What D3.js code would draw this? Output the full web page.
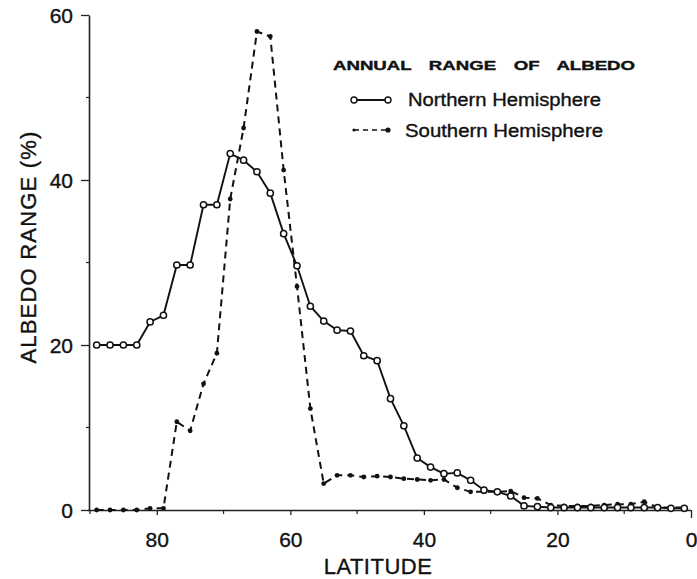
<!DOCTYPE html>
<html>
<head>
<meta charset="utf-8">
<script src="https://cdn.jsdelivr.net/npm/d3@7"></script>
<style>
  html, body { margin: 0; padding: 0; background: #fff; }
  svg { display: block; }
  text { font-family: "Liberation Sans", Arial, Helvetica, sans-serif; fill: #111; stroke: #111; stroke-width: 0.35px; }
</style>
</head>
<body>
<svg id="chart" width="697" height="579"></svg>
<script>
// ---- data ----
const latitudes = [89, 87, 85, 83, 81, 79, 77, 75, 73, 71, 69, 67, 65, 63, 61, 59, 57, 55, 53, 51,
                   49, 47, 45, 43, 41, 39, 37, 35, 33, 31, 29, 27, 25, 23, 21, 19, 17, 15, 13, 11,
                   9, 7, 5, 3, 1];
const northern = [20.0, 20.0, 20.0, 20.0, 22.8, 23.6, 29.7, 29.7, 37.0, 37.0, 43.2, 42.4, 41.0, 38.4, 33.5,
                  29.6, 24.7, 22.9, 21.8, 21.7, 18.7, 18.1, 13.5, 10.2, 6.3, 5.2, 4.4, 4.5, 3.6, 2.4,
                  2.2, 1.7, 0.5, 0.4, 0.3, 0.3, 0.3, 0.3, 0.3, 0.3, 0.3, 0.3, 0.3, 0.2, 0.2];
const southern = [0.0, 0.0, 0.0, 0.0, 0.2, 0.2, 10.7, 9.6, 15.3, 19.0, 37.7, 46.3, 58.0, 57.4, 41.2,
                  27.1, 12.3, 3.2, 4.2, 4.2, 4.0, 4.1, 4.0, 3.8, 3.7, 3.6, 3.7, 2.7, 2.2, 2.2,
                  2.2, 2.3, 1.5, 1.4, 0.6, 0.5, 0.5, 0.5, 0.6, 0.7, 0.7, 1.0, 0.3, 0.3, 0.3];
const xTickValues = [80, 60, 40, 20, 0];
const xMinorTicks = [90, 70, 50, 30, 10];
const yTickValues = [0, 20, 40, 60];
const yMinorTicks = [10, 30, 50];
const legendTitle = "ANNUAL RANGE OF ALBEDO";
const seriesNames = ["Northern Hemisphere", "Southern Hemisphere"];
const xTitle = "LATITUDE";
const yTitle = "ALBEDO RANGE (%)";

// ---- layout ----
const svg = d3.select("#chart");
const x = d3.scaleLinear().domain([90, 0]).range([90, 691]);
const y = d3.scaleLinear().domain([0, 60]).range([510, 15]);

// axes
const xAxis = svg.append("g").attr("transform", `translate(0,${y(0)})`)
  .call(d3.axisBottom(x).tickValues(xTickValues).tickSize(5).tickSizeOuter(0).tickFormat(d3.format("d")));
xAxis.select(".domain").attr("stroke", "#222").attr("stroke-width", 1.6)
  .attr("d", `M${x(90) - 2},0.5H${x(0)}`);
xAxis.selectAll(".tick line").attr("stroke", "#222").attr("stroke-width", 1.3);
xAxis.selectAll(".tick text").attr("dy", null).attr("y", 37).attr("font-size", 21)
  .attr("font-family", "Liberation Sans, Arial, sans-serif").attr("fill", "#111");
xAxis.selectAll(".tick").filter(d => d === 0).select("line").attr("y2", 8);
svg.append("g").selectAll("line").data(xMinorTicks).join("line")
  .attr("x1", d => x(d)).attr("x2", d => x(d))
  .attr("y1", y(0)).attr("y2", y(0) + 4)
  .attr("stroke", "#222").attr("stroke-width", 1.2);

const yAxis = svg.append("g").attr("transform", `translate(${x(90) - 1},0)`)
  .call(d3.axisLeft(y).tickValues(yTickValues).tickSize(8).tickSizeOuter(0).tickFormat(d3.format("d")));
yAxis.select(".domain").attr("stroke", "#222").attr("stroke-width", 1.6);
yAxis.selectAll(".tick line").attr("stroke", "#222").attr("stroke-width", 1.3);
yAxis.selectAll(".tick text").attr("dy", "0.36em").attr("x", -16).attr("font-size", 21)
  .attr("font-family", "Liberation Sans, Arial, sans-serif").attr("fill", "#111");
svg.append("g").selectAll("line").data(yMinorTicks).join("line")
  .attr("x1", x(90) - 4).attr("x2", x(90) - 1)
  .attr("y1", d => y(d)).attr("y2", d => y(d))
  .attr("stroke", "#222").attr("stroke-width", 1.2);

// axis titles
svg.append("text").attr("x", 378).attr("y", 574).attr("text-anchor", "middle")
  .attr("font-size", 22).attr("letter-spacing", 0.5).text(xTitle);
svg.append("text").attr("transform", "translate(36,247) rotate(-90)").attr("text-anchor", "middle")
  .attr("font-size", 22).attr("letter-spacing", 1.2).text(yTitle);

// series
const north = latitudes.map((lat, i) => ({ lat, v: northern[i] }));
const south = latitudes.map((lat, i) => ({ lat, v: southern[i] }));
const line = d3.line().x(d => x(d.lat)).y(d => y(d.v));

svg.append("path").datum(south).attr("d", line)
  .attr("fill", "none").attr("stroke", "#111").attr("stroke-width", 2)
  .attr("stroke-dasharray", "7,5");
svg.append("g").selectAll("circle").data(south).join("circle")
  .attr("cx", d => x(d.lat)).attr("cy", d => y(d.v)).attr("r", 2.4).attr("fill", "#111");

svg.append("path").datum(north).attr("d", line)
  .attr("fill", "none").attr("stroke", "#111").attr("stroke-width", 1.9);
svg.append("g").selectAll("circle").data(north).join("circle")
  .attr("cx", d => x(d.lat)).attr("cy", d => y(d.v)).attr("r", 3.1)
  .attr("fill", "#fff").attr("stroke", "#111").attr("stroke-width", 1.5);

// legend
const lg = svg.append("g");
lg.append("text").attr("x", 333).attr("y", 70).attr("font-size", 12).attr("font-weight", "bold")
  .attr("font-family", "DejaVu Sans, sans-serif").attr("word-spacing", 8)
  .attr("textLength", 302).attr("lengthAdjust", "spacingAndGlyphs").text(legendTitle);
// northern
lg.append("line").attr("x1", 354).attr("x2", 388).attr("y1", 100).attr("y2", 100)
  .attr("stroke", "#111").attr("stroke-width", 1.9);
lg.selectAll("circle.n").data([354, 388]).join("circle").attr("class", "n")
  .attr("cx", d => d).attr("cy", 100).attr("r", 3).attr("fill", "#fff")
  .attr("stroke", "#111").attr("stroke-width", 1.4);
lg.append("text").attr("x", 408).attr("y", 106).attr("font-size", 18)
  .attr("textLength", 193).attr("lengthAdjust", "spacingAndGlyphs").text(seriesNames[0]);
// southern
lg.append("line").attr("x1", 354).attr("x2", 388).attr("y1", 130).attr("y2", 130)
  .attr("stroke", "#111").attr("stroke-width", 1.6).attr("stroke-dasharray", "5,4");
lg.selectAll("circle.s").data([354, 388]).join("circle").attr("class", "s")
  .attr("cx", d => d).attr("cy", 130).attr("r", (d, i) => i ? 2.6 : 1.6).attr("fill", "#111");
lg.append("text").attr("x", 405).attr("y", 137).attr("font-size", 18)
  .attr("textLength", 198).attr("lengthAdjust", "spacingAndGlyphs").text(seriesNames[1]);
</script>
</body>
</html>
